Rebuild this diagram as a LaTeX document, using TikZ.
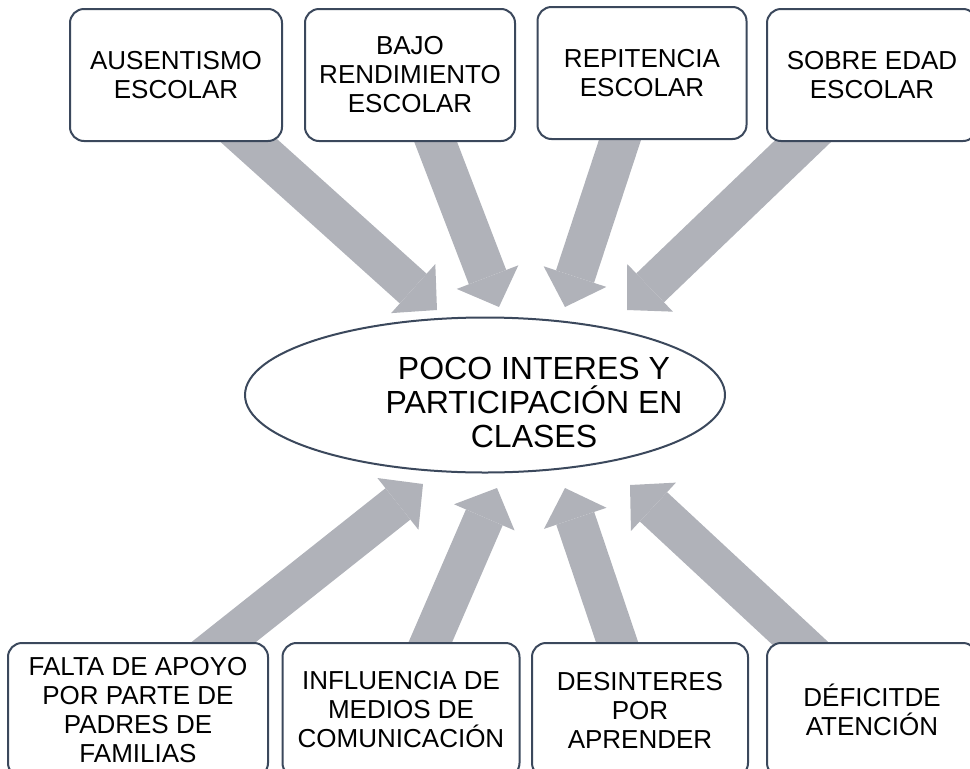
\documentclass[tikz,border=0pt]{standalone}
\usepackage{fontspec}
\setmainfont{Liberation Sans}
\usetikzlibrary{shapes.geometric,arrows.meta,backgrounds}
\definecolor{borde}{RGB}{59,72,92}
\definecolor{flecha}{RGB}{176,178,185}

\begin{document}
\begin{tikzpicture}[x=1pt, y=-1pt,
    causa/.style={rectangle, rounded corners=14pt, draw=borde, line width=2pt, fill=white, align=center, minimum height=132pt, font=\fontsize{26}{29}\selectfont},
    efecto/.style={ellipse, draw=borde, line width=2pt, fill=white, minimum width=480pt, minimum height=155pt, inner sep=0pt},
    flechota/.style={draw=flecha, line width=40pt, -{Triangle[length=32pt 0 0, width=66pt 0 0, line width=0pt]}}]

    \clip (0,0) rectangle (970,769);

    \node[efecto] (poco) at (485,395) {};
    \node[align=center, font=\fontsize{32}{34}\selectfont] (pocotexto) at ([xshift=49pt, yshift=-7pt]poco.center) {POCO INTERES Y\\PARTICIPACIÓN EN\\CLASES};

    \node[causa, minimum width=212pt] (ausentismo) at (176,75) {AUSENTISMO\\ESCOLAR};
    \node[causa, minimum width=210pt] (bajo) at (410,75) {BAJO\\RENDIMIENTO\\ESCOLAR};
    \node[causa, minimum width=209pt] (repitencia) at (642,73) {REPITENCIA\\ESCOLAR};
    \node[causa, minimum width=210pt] (sobreedad) at (872,75) {SOBRE EDAD\\ESCOLAR};

    \node[causa, minimum width=260pt, minimum height=134pt] (falta) at (138,710) {FALTA DE APOYO\\POR PARTE DE\\PADRES DE\\FAMILIAS};
    \node[causa, minimum width=237pt, minimum height=134pt] (influencia) at (401,710) {INFLUENCIA DE\\MEDIOS DE\\COMUNICACIÓN};
    \node[causa, minimum width=216pt, minimum height=134pt] (desinteres) at (640,710) {DESINTERES\\POR\\APRENDER};
    \node[causa, minimum width=210pt, minimum height=134pt] (deficit) at (872,710) {DÉFICITDE\\ATENCIÓN};

    \begin{scope}[on background layer]
        \coordinate (p1) at (437,310);
        \coordinate (p2) at (499,307);
        \coordinate (p3) at (565,307);
        \coordinate (p4) at (627,310);
        \coordinate (p5) at (423,484);
        \coordinate (p6) at (497,488);
        \coordinate (p7) at (565,488);
        \coordinate (p8) at (630,485);
        \draw[flechota] (ausentismo.center) -- (p1);
        \draw[flechota] (bajo.center) -- (p2);
        \draw[flechota] (repitencia.center) -- (p3);
        \draw[flechota] (sobreedad.center) -- (p4);
        \draw[flechota] (falta.center) -- (p5);
        \draw[flechota] (influencia.center) -- (p6);
        \draw[flechota] (desinteres.center) -- (p7);
        \draw[flechota] (deficit.center) -- (p8);
    \end{scope}

\end{tikzpicture}
\end{document}
